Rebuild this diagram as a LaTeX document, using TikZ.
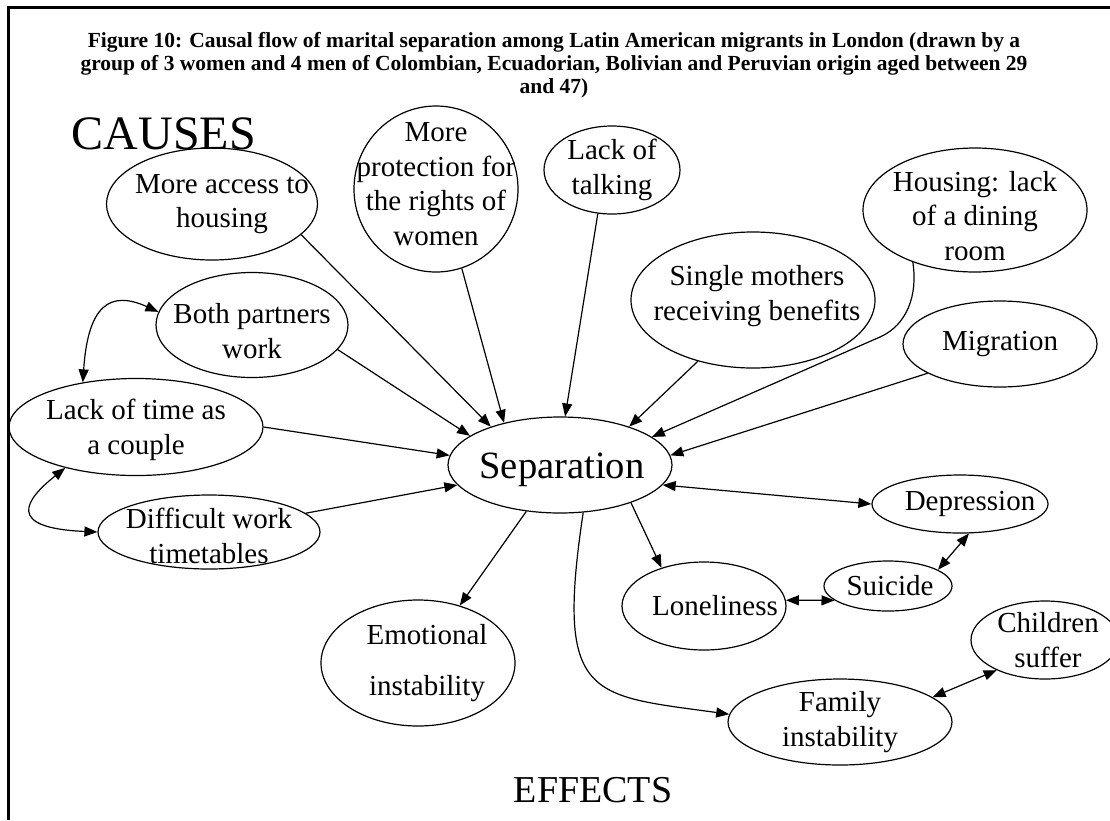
\documentclass[tikz,border=0pt]{standalone}
\usepackage{fontspec}
\setmainfont{Liberation Serif}
\usetikzlibrary{arrows.meta,shapes.geometric}
\begin{document}
\begin{tikzpicture}[x=1pt,y=-1pt,
  bubble/.style={ellipse, draw, line width=1.2pt, inner sep=0pt},
  txt/.style={font=\fontsize{29}{34.5}\selectfont, align=center, inner sep=0pt},
  heading/.style={font=\bfseries\fontsize{21.5}{24}\selectfont, inner sep=0pt, anchor=base},
  link/.style={line width=1.2pt, -{Triangle[length=13pt,width=10pt]}},
  twoway/.style={line width=1.2pt, {Triangle[length=13pt,width=10pt]}-{Triangle[length=13pt,width=10pt]}}]
\useasboundingbox (0,0) rectangle (1110,820);

% frame
\draw[line width=2.6pt] (8.5,820) -- (8.5,7.5) -- (1110,7.5);

% title
\node[heading] (title1) at (554,47) {Figure 10: Causal flow of marital separation among Latin American migrants in London (drawn by a};
\node[heading] (title2) at (554,70) {group of 3 women and 4 men of Colombian, Ecuadorian, Bolivian and Peruvian origin aged between 29};
\node[heading] (title3) at (554,93) {and 47)};

% section headings
\node[inner sep=0pt, anchor=base, font=\fontsize{48}{50}\selectfont] (causes) at (164,149) {CAUSES};
\node[inner sep=0pt, anchor=base, font=\fontsize{38}{40}\selectfont] (effects) at (593,802) {EFFECTS};

% causes
\node[bubble, minimum width=211, minimum height=112,
  label={[txt, xshift=10pt]center:{More access to\\housing}}] (acc) at (212,204) {};
\node[bubble, minimum width=164, minimum height=166,
  label={[txt, yshift=5pt]center:{More\\protection for\\the rights of\\women}}] (prot) at (436,189) {};
\node[bubble, minimum width=136, minimum height=88,
  label={[txt]center:{Lack of\\talking}}] (talk) at (612,170) {};
\node[bubble, minimum width=244, minimum height=136,
  label={[txt, xshift=4pt, yshift=4pt]center:{Single mothers\\receiving benefits}}] (single) at (753,300) {};
\node[bubble, minimum width=224, minimum height=124,
  label={[txt, yshift=-6pt]center:{Housing: lack\\of a dining\\room}}] (house) at (975,210) {};
\node[bubble, minimum width=194, minimum height=86,
  label={[txt]center:{Migration}}] (mig) at (1000,344) {};
\node[bubble, minimum width=192, minimum height=105,
  label={[txt, yshift=-6pt]center:{Both partners\\work}}] (both) at (252,325) {};
\node[bubble, minimum width=254, minimum height=97,
  label={[txt, yshift=-3pt]center:{Lack of time as\\a couple}}] (lack) at (136,427) {};
\node[bubble, minimum width=222, minimum height=74,
  label={[txt, yshift=-4pt]center:{Difficult work\\timetables}}] (diff) at (209,532) {};

% centre
\node[bubble, minimum width=224, minimum height=96,
  label={[inner sep=0pt, font=\fontsize{38.6}{40}\selectfont, xshift=2pt, yshift=-5pt]center:{Separation}}] (sep) at (560,465) {};

% effects
\node[bubble, minimum width=194, minimum height=126,
  label={[txt, xshift=9pt]center:{Emotional\\[16pt]instability}}] (emo) at (418,663) {};
\node[bubble, minimum width=164, minimum height=88,
  label={[txt, xshift=11pt]center:{Loneliness}}] (lone) at (704,606) {};
\node[bubble, minimum width=176, minimum height=58,
  label={[txt, xshift=10pt]center:{Depression}}] (dep) at (960,504) {};
\node[bubble, minimum width=128, minimum height=50,
  label={[txt, xshift=2pt]center:{Suicide}}] (sui) at (888,586) {};
\node[bubble, minimum width=148, minimum height=78,
  label={[txt, xshift=3pt]center:{Children\\suffer}}] (child) at (1045,640) {};
\node[bubble, minimum width=224, minimum height=86,
  label={[txt]center:{Family\\instability}}] (fam) at (840,722) {};

% causes feeding separation
\draw[link] (lack.east) -- (sep.175);
\draw[link] (both.-16) -- (sep.162);
\draw[link] (acc.-19) -- (sep.151);
\draw[link] (prot.-72) -- (sep.143);
\draw[link] (talk.-108) -- (sep.84);
\draw[link] (single.-132) -- (sep.29);
\draw[link] (house.-140) .. controls (918,295) and (907,325) .. (880,337) -- (sep.17);
\draw[link] (mig.-158) -- (sep.5);
\draw[link] (diff.11) -- (sep.-169);

% links among causes
\draw[twoway] (lack.140) .. controls (88,305) and (110,290) .. (both.172);
\draw[twoway] (lack.-150) .. controls (25,500) and (5,528) .. (diff.west);

% effects of separation
\draw[link] (sep.-126) -- (emo.54);
\draw[link] (sep.-28) -- (lone.138);
\draw[link] (sep.-64) .. controls (555,700) and (590,695) .. (fam.176);
\draw[twoway] (sep.-11) -- (dep.west);
\draw[twoway] (dep.-73) -- (sui.18);
\draw[twoway] (lone.4) -- (sui.195);
\draw[twoway] (fam.15) -- (child.212);
\end{tikzpicture}
\end{document}
